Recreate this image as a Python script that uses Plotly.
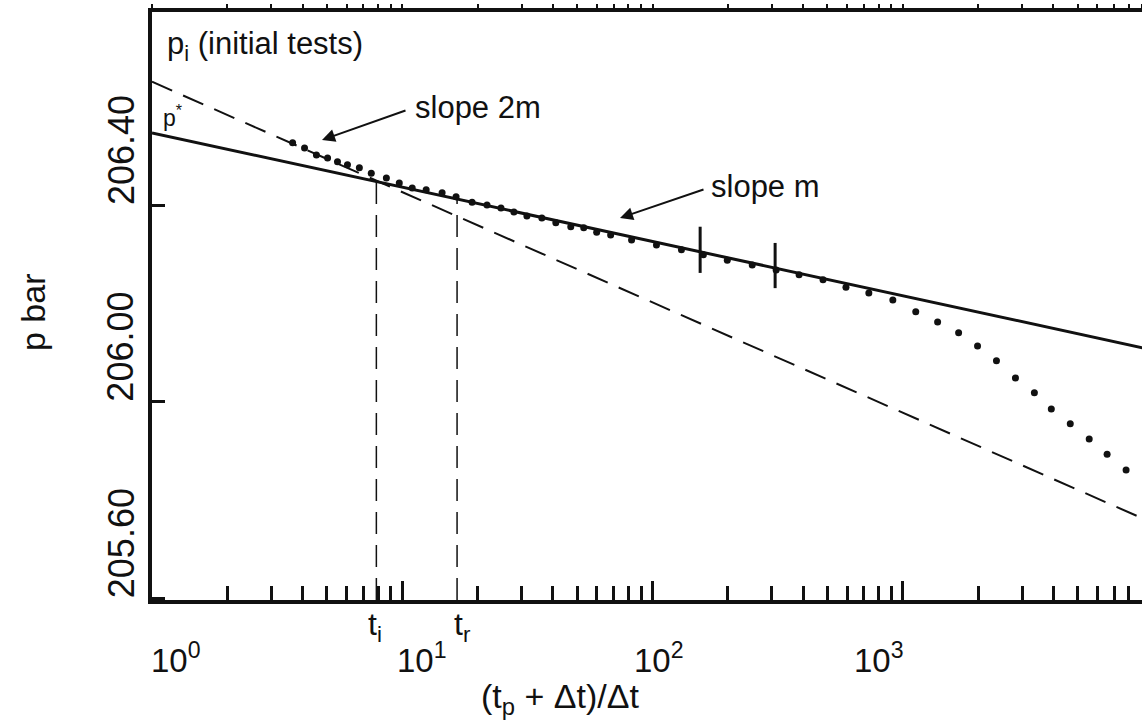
import math
import plotly.graph_objects as go

# ---------------- data ----------------
# Horner plot data points: (tp+dt)/dt and pressure (bar)
horner_x = [3.646, 4.07, 4.54, 5.03, 5.51, 6.04, 6.74, 7.52, 8.64, 9.73,
            10.96, 12.46, 14.43, 16.41, 19.01, 21.81, 24.80, 27.94, 31.48, 36.13,
            41.08, 47.14, 53.11, 59.83, 68.04, 82.48, 103.7, 130.5, 159.7, 199.0,
            250.3, 311.9, 385.2, 480.1, 592.9, 731.9, 912.7, 1127, 1378, 1672,
            1990, 2368, 2820, 3357, 3923, 4670, 5559, 6556, 7805]
pressure = [206.527, 206.516, 206.502, 206.496, 206.488, 206.482, 206.476, 206.465, 206.455, 206.445,
            206.435, 206.431, 206.425, 206.417, 206.406, 206.400, 206.394, 206.386, 206.378, 206.374,
            206.364, 206.356, 206.354, 206.345, 206.339, 206.329, 206.319, 206.309, 206.299, 206.288,
            206.278, 206.268, 206.258, 206.248, 206.233, 206.221, 206.207, 206.183, 206.162, 206.140,
            206.113, 206.083, 206.048, 206.018, 205.985, 205.955, 205.924, 205.893, 205.861]

# straight line of slope m (through p*)
line_m_x = [1, 10000]
line_m_p = [206.547, 206.105]
# straight line of slope 2m
line_2m_x = [1, 10000]
line_2m_p = [206.651, 205.753]

# characteristic times t_i and t_r
t_names = ["t<sub>i</sub>", "t<sub>r</sub>"]
t_x = [7.88, 16.56]
t_p = [206.448, 206.412]

# vertical markers on the semilog straight line
bar_x = [155, 309]
bar_lo = [206.262, 206.231]
bar_hi = [206.356, 206.323]

# axis ticks
x_major = [1, 10, 100, 1000]
x_major_text = ["10<sup>0</sup>", "10<sup>1</sup>", "10<sup>2</sup>", "10<sup>3</sup>"]
x_minor = [m * d for d in [1, 10, 100, 1000] for m in range(2, 10)]
y_ticks = [205.60, 206.00, 206.40]
y_ticks_text = ["205.60", "206.00", "206.40"]

Y_MIN, Y_MAX = 205.5963, 206.7930
X_RANGE = [0, 3.956]

# ---------------- layout helpers ----------------
L, T, W, H = 152, 12, 990, 588
def px(xp):
    return (xp - L) / W
def py(yp):
    return (T + H - yp) / H

FONT = "Liberation Sans, Arial, Helvetica, sans-serif"
BLACK = "#111111"

fig = go.Figure()

# slope 2m dashed line
fig.add_trace(go.Scatter(x=line_2m_x, y=line_2m_p, mode="lines",
                         line=dict(color=BLACK, width=2, dash="22px,12px"),
                         hoverinfo="skip", showlegend=False))
# slope m solid line
fig.add_trace(go.Scatter(x=line_m_x, y=line_m_p, mode="lines",
                         line=dict(color=BLACK, width=3),
                         hoverinfo="skip", showlegend=False))
# vertical dashed lines at t_i and t_r
for tx, tp in zip(t_x, t_p):
    fig.add_trace(go.Scatter(x=[tx, tx], y=[Y_MIN, tp], mode="lines",
                             line=dict(color=BLACK, width=1.5, dash="22px,11px"),
                             hoverinfo="skip", showlegend=False))
# bars on the straight line
for bx, lo, hi in zip(bar_x, bar_lo, bar_hi):
    fig.add_trace(go.Scatter(x=[bx, bx], y=[lo, hi], mode="lines",
                             line=dict(color=BLACK, width=3),
                             hoverinfo="skip", showlegend=False))
# data points
fig.add_trace(go.Scatter(x=horner_x, y=pressure, mode="markers",
                         marker=dict(color=BLACK, size=7),
                         showlegend=False))
# invisible trace to carry the top axis
fig.add_trace(go.Scatter(x=[10], y=[206.2], xaxis="x2", mode="markers",
                         marker=dict(opacity=0), hoverinfo="skip", showlegend=False))

annotations = []
# y tick labels (rotated, placed above each tick)
for v, t in zip(y_ticks, y_ticks_text):
    annotations.append(dict(xref="paper", yref="y", x=px(121), y=v, yshift=55,
                            text=t, textangle=-90, showarrow=False,
                            xanchor="center", yanchor="middle",
                            font=dict(family=FONT, size=36, color=BLACK)))
# x tick labels
x_shifts = [24, 20, 6, -24]
for v, t, s in zip(x_major, x_major_text, x_shifts):
    annotations.append(dict(xref="x", yref="paper", x=math.log10(v), y=0,
                            xshift=s, yshift=-58, text=t, showarrow=False,
                            xanchor="center", yanchor="middle",
                            font=dict(family=FONT, size=33, color=BLACK)))
# t_i, t_r labels
for v, t, s in zip(t_x, t_names, [-1, 5]):
    annotations.append(dict(xref="x", yref="paper", x=math.log10(v), y=0,
                            xshift=s, yshift=-4, text=t, showarrow=False,
                            xanchor="center", yanchor="top",
                            font=dict(family=FONT, size=32, color=BLACK)))
# axis titles
annotations.append(dict(xref="paper", yref="paper", x=px(560), y=py(698),
                        text="(t<sub>p</sub> + \u0394t)/\u0394t", showarrow=False,
                        xanchor="center", yanchor="middle",
                        font=dict(family=FONT, size=34, color=BLACK)))
annotations.append(dict(xref="paper", yref="paper", x=px(33), y=py(312),
                        text="p bar", textangle=-90, showarrow=False,
                        xanchor="center", yanchor="middle",
                        font=dict(family=FONT, size=34, color=BLACK)))
# in-plot texts
annotations.append(dict(xref="paper", yref="paper", x=px(165), y=py(46),
                        text="p<sub>i</sub> (initial tests)", showarrow=False,
                        xanchor="left", yanchor="middle",
                        font=dict(family=FONT, size=31, color=BLACK)))
annotations.append(dict(xref="paper", yref="paper", x=px(161), y=py(116),
                        text="p<sup>*</sup>", showarrow=False,
                        xanchor="left", yanchor="middle",
                        font=dict(family=FONT, size=23, color=BLACK)))
annotations.append(dict(xref="paper", yref="paper", x=px(413), y=py(108),
                        text="slope 2m", showarrow=False,
                        xanchor="left", yanchor="middle",
                        font=dict(family=FONT, size=31, color=BLACK)))
annotations.append(dict(xref="paper", yref="paper", x=px(709), y=py(186),
                        text="slope m", showarrow=False,
                        xanchor="left", yanchor="middle",
                        font=dict(family=FONT, size=31, color=BLACK)))
# arrows
annotations.append(dict(xref="paper", yref="paper", x=px(322), y=py(140),
                        ax=85, ay=-30, text="", showarrow=True,
                        arrowhead=2, arrowsize=1.3, arrowwidth=2, arrowcolor=BLACK))
annotations.append(dict(xref="paper", yref="paper", x=px(620), y=py(218),
                        ax=85, ay=-29, text="", showarrow=True,
                        arrowhead=2, arrowsize=1.3, arrowwidth=2, arrowcolor=BLACK))

fig.update_layout(
    width=1142, height=722, autosize=False,
    margin=dict(l=L, r=0, t=T, b=722 - T - H, pad=0),
    paper_bgcolor="white", plot_bgcolor="white",
    showlegend=False,
    annotations=annotations,
    xaxis=dict(type="log", range=X_RANGE, showgrid=False, zeroline=False,
               showline=True, linecolor=BLACK, linewidth=4,
               ticks="inside", tickmode="array", tickvals=x_major,
               ticklen=19, tickwidth=3, tickcolor=BLACK, showticklabels=False,
               minor=dict(ticks="inside", tickmode="array", tickvals=x_minor,
                          ticklen=14, tickwidth=3, tickcolor=BLACK, showgrid=False)),
    xaxis2=dict(type="log", range=X_RANGE, overlaying="x", side="top", anchor="y",
                showgrid=False, zeroline=False,
                showline=True, linecolor=BLACK, linewidth=4,
                ticks="outside", tickmode="array", tickvals=x_major + x_minor,
                ticklen=4, tickwidth=2, tickcolor=BLACK, showticklabels=False),
    yaxis=dict(range=[Y_MIN, Y_MAX], showgrid=False, zeroline=False,
               showline=True, linecolor=BLACK, linewidth=4,
               ticks="inside", tickmode="array", tickvals=y_ticks,
               ticklen=13, tickwidth=3, tickcolor=BLACK, showticklabels=False),
)

fig.write_html("out.html")
